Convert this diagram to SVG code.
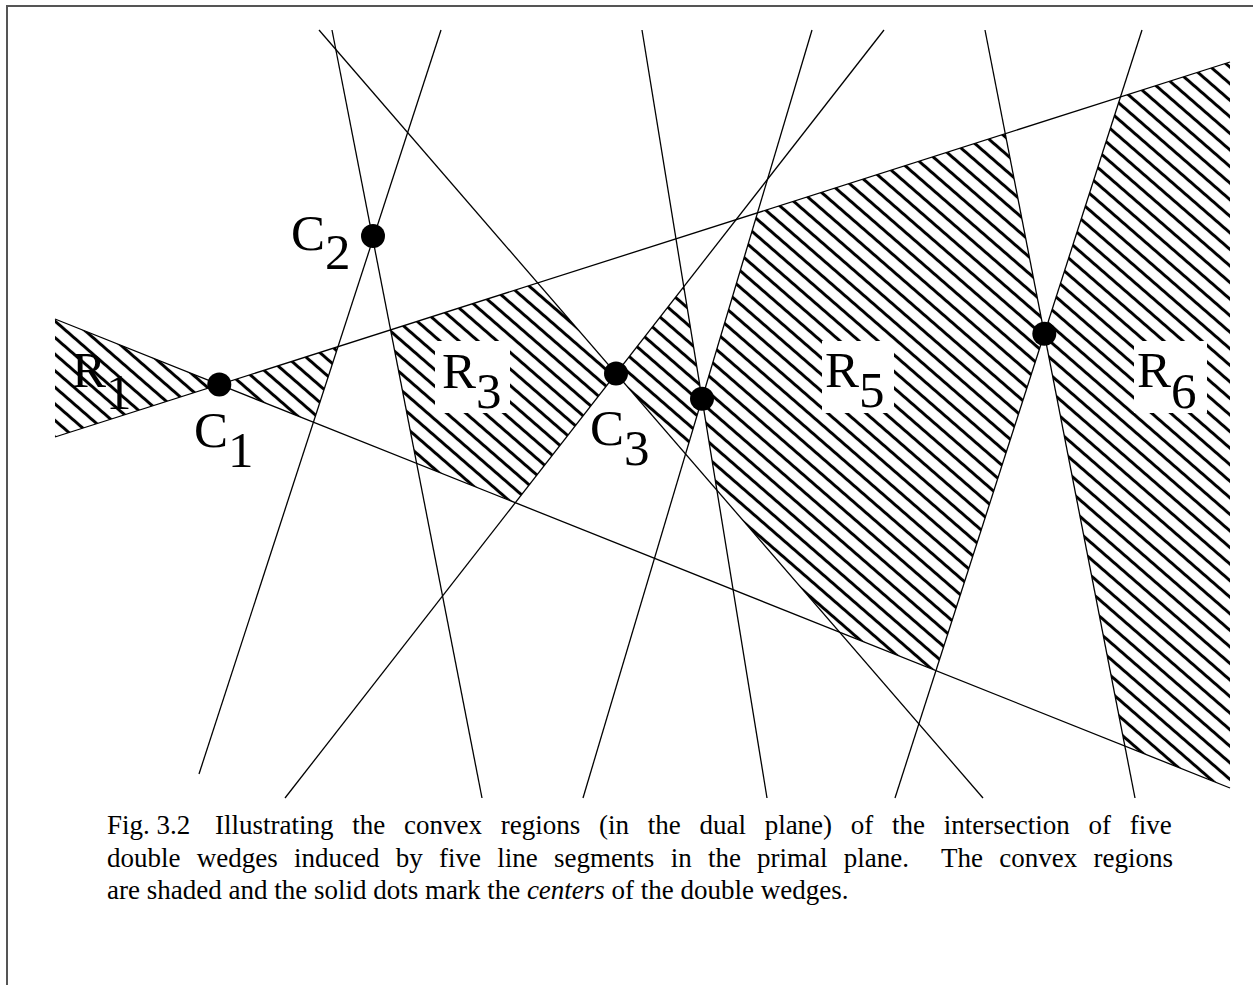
<svg xmlns="http://www.w3.org/2000/svg" width="1253" height="985" viewBox="0 0 1253 985">
<style>
  .ln { stroke:#000; stroke-width:1.3; fill:none; }
  .reg { fill:url(#hatch); stroke:none; }
  .lbl { font-family:"Liberation Serif","Times New Roman",serif; font-size:51px; fill:#000; }
  .box { fill:#fff; stroke:none; }
  .dot { fill:#000; }
  .cap { font-family:"Liberation Serif","Times New Roman",serif; font-size:27px; fill:#000; }
</style>
<defs>
  <pattern id="hatch" patternUnits="userSpaceOnUse" width="12.5" height="12.5" patternTransform="rotate(41)">
    <line x1="0" y1="6.25" x2="12.5" y2="6.25" stroke="#000" stroke-width="3"/>
  </pattern>
</defs>
<rect x="7" y="6" width="1300" height="1050" fill="#fff" stroke="#555" stroke-width="2"/>

<g id="regions">
  <polygon id="R1-region" class="reg" points="55,319 219.3,384.6 55,437"/>
  <polygon id="R2-region" class="reg" points="219.3,384.6 338,346.7 313.4,422.2"/>
  <polygon id="R3-region" class="reg" points="390.6,329.9 537.7,283 616,373.6 515.3,502.7 416.6,463.4"/>
  <polygon id="R4-region" class="reg" points="616,373.6 683.8,286.7 702,398.8 685.6,454"/>
  <polygon id="R5-region" class="reg" points="757.5,212.8 1005.3,133.7 1044.3,333.7 936,670.6 839.7,632.2 716.9,490.2 702,398.8"/>
  <polygon id="R6-region" class="reg" points="1120.5,97 1230,62 1230,788 1124.9,746 1044.3,333.7"/>
</g>

<g id="connectors">
  <line class="ln" x1="55" y1="437" x2="1230" y2="62"/>
  <line class="ln" x1="55" y1="319" x2="1230" y2="788"/>
  <line class="ln" x1="441" y1="30" x2="199" y2="774"/>
  <line class="ln" x1="332" y1="30" x2="482" y2="798"/>
  <line class="ln" x1="319" y1="30" x2="983" y2="798"/>
  <line class="ln" x1="884" y1="30" x2="285" y2="798"/>
  <line class="ln" x1="812" y1="30" x2="583" y2="798"/>
  <line class="ln" x1="642" y1="30" x2="767" y2="798"/>
  <line class="ln" x1="985" y1="30" x2="1135" y2="798"/>
  <line class="ln" x1="1142" y1="30" x2="895" y2="798"/>
</g>

<g id="R1">
  <text class="lbl" x="72" y="387">R<tspan dy="22">1</tspan></text>
</g>
<g id="R3">
  <rect class="box" x="435" y="341" width="75" height="72"/>
  <text class="lbl" x="442" y="388">R<tspan dy="20">3</tspan></text>
</g>
<g id="R5">
  <rect class="box" x="822" y="341" width="72" height="72"/>
  <text class="lbl" x="825" y="387">R<tspan dy="20">5</tspan></text>
</g>
<g id="R6">
  <rect class="box" x="1134" y="341" width="73" height="72"/>
  <text class="lbl" x="1137" y="387">R<tspan dy="21">6</tspan></text>
</g>

<g id="C1">
  <circle class="dot" cx="219.3" cy="384.6" r="12"/>
  <text class="lbl" x="194" y="447">C<tspan dy="20">1</tspan></text>
</g>
<g id="C2">
  <circle class="dot" cx="373" cy="236" r="12"/>
  <text class="lbl" x="291" y="250">C<tspan dy="19">2</tspan></text>
</g>
<g id="C3">
  <circle class="dot" cx="616" cy="373.6" r="12"/>
  <text class="lbl" x="590" y="445">C<tspan dy="20">3</tspan></text>
</g>
<g id="C4">
  <circle class="dot" cx="702" cy="398.8" r="12"/>
</g>
<g id="C5">
  <circle class="dot" cx="1044.3" cy="333.7" r="12"/>
</g>

<g id="caption">
  <text class="cap" x="107" y="834">Fig. 3.2</text>
  <text class="cap" x="215" y="834" word-spacing="12">Illustrating the convex regions (in the dual plane) of the intersection of five</text>
  <text class="cap" x="107" y="867" word-spacing="9.5" xml:space="preserve">double wedges induced by five line segments in the primal plane.  The convex regions</text>
  <text class="cap" x="107" y="899">are shaded and the solid dots mark the <tspan font-style="italic">centers</tspan> of the double wedges.</text>
</g>
</svg>
